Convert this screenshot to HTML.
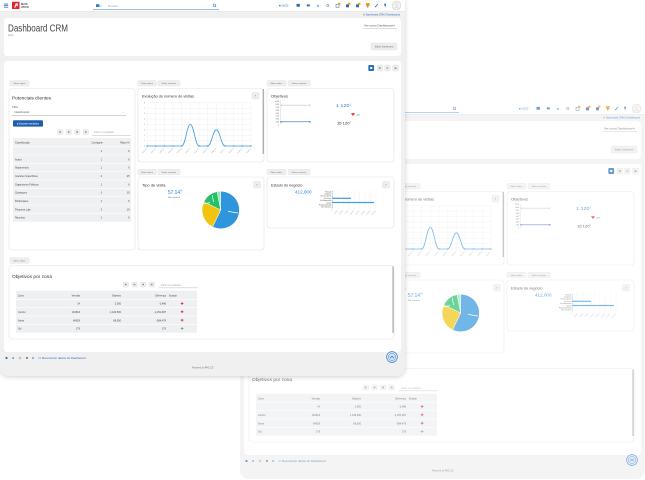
<!DOCTYPE html>
<html><head><meta charset="utf-8">
<style>
html,body{margin:0;padding:0}
body{width:645px;height:480px;background:#fff;position:relative;overflow:hidden}
.shot{position:absolute;width:405px;height:376px}
.shot svg{display:block}
#back{left:240px;top:103px;opacity:.68}
#front{left:0;top:0;filter:drop-shadow(0 1px 2.5px rgba(0,0,0,.18))}
</style></head><body>

<div class="shot" id="back">
<svg width="405" height="376" viewBox="0 0 405 376" font-family="'Liberation Sans',sans-serif">
<path d="M0 0H405V367a9 9 0 0 1-9 9H9a9 9 0 0 1-9-9Z" fill="#f0f0f0"/>
<rect width="405" height="11" fill="#fff"/><rect y="11" width="405" height="0.5" fill="#e2e2e2"/>
<g fill="#2f6db5"><rect x="4" y="3.6" width="4.2" height="0.8"/><rect x="4" y="5.2" width="4.2" height="0.8"/><rect x="4" y="6.8" width="4.2" height="0.8"/></g>
<rect x="12" y="1.8" width="7.5" height="7.2" rx="0.8" fill="#e3202b"/>
<path d="M14.2 7.6L15.6 3.4H17.8V6.2H16.6V4.6L15.4 7.6Z" fill="#fff"/>
<text x="21" y="4.9" font-size="2.6" font-weight="bold" fill="#444">MAIS</text>
<text x="21" y="8" font-size="2.6" font-weight="bold" fill="#444">ATIVO</text>
<rect x="93" y="9.3" width="126" height="0.7" fill="#6aa3e3"/>
<rect x="96" y="4.2" width="3.4" height="2.8" fill="#3a78c8"/>
<text x="100.2" y="7" font-size="2.4" fill="#3a78c8">▾</text>
<text x="108" y="6.9" font-size="2.5" fill="#9a9a9a">Procurar...</text>
<circle cx="214.3" cy="5.2" r="1.2" fill="none" stroke="#3a78c8" stroke-width="0.6"/><line x1="215.1" y1="6" x2="216.2" y2="7.1" stroke="#3a78c8" stroke-width="0.6"/>
<text x="279" y="6.6" font-size="2.8" fill="#2f6db5">■ 20/22</text>
<rect x="296.5" y="3.9" width="3.4" height="2.8" rx="0.4" fill="#2f6db5"/>
<rect x="306.8" y="4.4" width="3" height="2" fill="#2f6db5"/>
<text x="316.4" y="7" font-size="3.4" fill="#2f6db5">★</text>
<circle cx="327.8" cy="5.5" r="1.2" fill="none" stroke="#2f6db5" stroke-width="0.5"/>
<rect x="336" y="4.3" width="3" height="3" fill="none" stroke="#2f6db5" stroke-width="0.5"/><rect x="338" y="2.8" width="2.4" height="2" fill="#f39c12"/>
<rect x="346" y="4.3" width="3" height="3" fill="#2f6db5"/><rect x="348" y="2.8" width="2.4" height="2" fill="#f39c12"/>
<rect x="356" y="4.3" width="3" height="3" fill="#2f6db5"/><rect x="358" y="2.8" width="2.4" height="2" fill="#f39c12"/>
<rect x="366" y="3" width="3.6" height="3" fill="#f39c12"/><rect x="367.3" y="6" width="1" height="1.5" fill="#2f6db5"/>
<line x1="375" y1="7.2" x2="377.8" y2="4.2" stroke="#2f6db5" stroke-width="0.8"/>
<rect x="384.3" y="3.6" width="1.6" height="2.2" fill="#2f6db5"/><rect x="384.9" y="5.8" width="0.4" height="1.6" fill="#2f6db5"/>
<circle cx="396.5" cy="5.5" r="4.4" fill="#f5f5f5" stroke="#d0d0d0" stroke-width="0.6"/>
<circle cx="396.5" cy="4.6" r="1.6" fill="none" stroke="#d0d0d0" stroke-width="0.5"/>
<path d="M393.5 8.6Q396.5 5.8 399.5 8.6" fill="none" stroke="#d0d0d0" stroke-width="0.5"/>
<text x="400" y="15.6" text-anchor="end" font-size="2.5" fill="#2f6db5"><tspan fill="#777">⚙ </tspan>Dashboard CRM | Dashboards</text>
<rect x="4" y="18" width="397" height="38" rx="3" fill="#fff"/>
<text x="8" y="31.5" font-size="10" fill="#444" textLength="60" lengthAdjust="spacingAndGlyphs">Dashboard CRM</text>
<text x="8" y="36" font-size="2.8" fill="#777">Crm</text>
<text x="364" y="26.5" font-size="2.7" fill="#555" textLength="31" lengthAdjust="spacingAndGlyphs">Ver outro Dashboard ▾</text>
<rect x="363" y="28" width="34" height="0.5" fill="#bbb"/>
<rect x="371" y="43" width="26" height="7" rx="1.5" fill="#eee" stroke="#ddd" stroke-width="0.4"/>
<text x="384" y="47.4" text-anchor="middle" font-size="2.4" fill="#777">Editar Dashboard</text>
<rect x="4" y="61" width="397" height="291" rx="3" fill="#fff"/>
<rect x="368.3" y="65" width="5.8" height="6" rx="1" fill="#2f6db5"/><rect x="370.2" y="67" width="2" height="2" fill="#fff"/>
<g fill="#eee" stroke="#ddd" stroke-width="0.4"><rect x="377" y="65" width="5.5" height="6" rx="1"/><rect x="384.6" y="65" width="5.5" height="6" rx="1"/><rect x="392.7" y="65" width="5.5" height="6" rx="1"/></g>
<g fill="#888"><rect x="378.9" y="67.2" width="1.7" height="1.6"/><rect x="386.5" y="67.5" width="1.7" height="1"/><path d="M394.5 69.3L396.4 67.4"/><rect x="394.6" y="67.5" width="1.8" height="1.5"/></g>
<g fill="#efefef" stroke="#e0e0e0" stroke-width="0.4">
<rect x="10" y="80.5" width="19" height="5.5" rx="1"/>
<rect x="138" y="80.5" width="18.5" height="5.5" rx="1"/><rect x="158" y="80.5" width="22" height="5.5" rx="1"/>
<rect x="267" y="80.5" width="19" height="5.5" rx="1"/><rect x="288" y="80.5" width="22" height="5.5" rx="1"/>
<rect x="138" y="169.3" width="18.5" height="5.5" rx="1"/><rect x="158" y="169.3" width="22" height="5.5" rx="1"/>
<rect x="267" y="169.3" width="19" height="5.5" rx="1"/><rect x="288" y="169.3" width="22" height="5.5" rx="1"/>
<rect x="10" y="257.8" width="19" height="5.5" rx="1"/>
</g>
<g font-size="2.1" fill="#777" text-anchor="middle">
<text x="19.5" y="84">Editar objeto</text>
<text x="147.2" y="84">Editar objeto</text><text x="169" y="84">Editar snapshot</text>
<text x="276.5" y="84">Editar objeto</text><text x="299" y="84">Editar snapshot</text>
<text x="147.2" y="172.8">Editar objeto</text><text x="169" y="172.8">Editar snapshot</text>
<text x="276.5" y="172.8">Editar objeto</text><text x="299" y="172.8">Editar snapshot</text>
<text x="19.5" y="261.3">Editar objeto</text>
</g>
<g fill="#fff" stroke="#e3e3e3" stroke-width="0.6">
<rect x="9" y="88.5" width="126" height="161.5" rx="3"/>
<rect x="138" y="88.5" width="126" height="73.5" rx="3"/>
<rect x="138" y="177" width="126" height="73" rx="3"/>
<rect x="267" y="88.5" width="127" height="73.5" rx="3"/>
<rect x="267" y="177" width="127" height="51" rx="3"/>
<rect x="9" y="265.5" width="385" height="73.5" rx="3"/>
</g>
<text x="12" y="99.5" font-size="4.6" fill="#333" textLength="39" lengthAdjust="spacingAndGlyphs">Potenciais clientes</text>
<text x="12.3" y="108" font-size="2.6" fill="#555">Filtro</text>
<text x="14" y="113.2" font-size="2.6" fill="#666">Classificação</text>
<text x="122.5" y="113.2" font-size="2.6" fill="#777">⌄</text>
<rect x="12" y="115.2" width="114" height="0.5" fill="#aaa"/>
<rect x="13" y="120.3" width="30" height="6.3" rx="1" fill="#1f5eae"/>
<text x="28" y="124.5" text-anchor="middle" font-size="2.3" fill="#fff">■ Exportar resultados</text>
<g fill="#efefef" stroke="#ddd" stroke-width="0.4"><rect x="57.5" y="129.5" width="5.5" height="5" rx="1"/><rect x="66" y="129.5" width="5.5" height="5" rx="1"/><rect x="74.5" y="129.5" width="5.5" height="5" rx="1"/><rect x="83" y="129.5" width="5.5" height="5" rx="1"/></g>
<g fill="#888"><rect x="59.4" y="131.3" width="1.6" height="1.4"/><rect x="67.9" y="131.3" width="1.6" height="1.4"/><rect x="76.4" y="131.3" width="1.6" height="1.4"/><rect x="84.9" y="131.3" width="1.6" height="1.4"/></g>
<text x="94" y="133.2" font-size="2.3" fill="#aaa">Filtrar os resultados</text>
<rect x="92" y="135.5" width="39" height="0.5" fill="#bbb"/>
<rect x="13" y="138" width="118" height="83.7" fill="#eef0f2"/>
<g fill="#fff"><rect x="13" y="146.4" width="118" height="0.6"/><rect x="13" y="154.7" width="118" height="0.6"/><rect x="13" y="163" width="118" height="0.6"/><rect x="13" y="171.4" width="118" height="0.6"/><rect x="13" y="179.7" width="118" height="0.6"/><rect x="13" y="188" width="118" height="0.6"/><rect x="13" y="196.4" width="118" height="0.6"/><rect x="13" y="204.7" width="118" height="0.6"/><rect x="13" y="213" width="118" height="0.6"/></g>
<g font-size="2.5" fill="#444">
<text x="15" y="143.5">Classificação</text><text x="103" y="143.5" text-anchor="end">Contagem</text><text x="129.5" y="143.5" text-anchor="end">Rácio %</text>
<text x="15" y="160.3">Activo</text><text x="15" y="168.7">Alojamentos</text><text x="15" y="177">Grandes Superfícies</text><text x="15" y="185.3">Organismos Públicos</text><text x="15" y="193.7">Quiosques</text><text x="15" y="202">Particulares</text><text x="15" y="210.3">Pequena Loja</text><text x="15" y="218.7">Ranchos</text>
</g>
<g font-size="2.5" fill="#444" text-anchor="end">
<text x="102" y="152">1</text><text x="102" y="160.3">1</text><text x="102" y="168.7">1</text><text x="102" y="177">4</text><text x="102" y="185.3">1</text><text x="102" y="193.7">3</text><text x="102" y="202">1</text><text x="102" y="210.3">3</text><text x="102" y="218.7">1</text>
<text x="129.5" y="152">6</text><text x="129.5" y="160.3">6</text><text x="129.5" y="168.7">6</text><text x="129.5" y="177">25</text><text x="129.5" y="185.3">6</text><text x="129.5" y="193.7">19</text><text x="129.5" y="202">6</text><text x="129.5" y="210.3">19</text><text x="129.5" y="218.7">6</text>
</g>
<text x="142" y="97.6" font-size="3.8" fill="#333" textLength="52" lengthAdjust="spacingAndGlyphs">Evolução do número de visitas</text>
<rect x="252" y="92.5" width="7" height="6.5" rx="1" fill="#eee" stroke="#ddd" stroke-width="0.4"/><text x="255.5" y="97.2" text-anchor="middle" font-size="3.5" fill="#555">›</text>
<g stroke="#ececec" stroke-width="0.4">
<line x1="147" y1="146" x2="251" y2="146"/><line x1="147" y1="140.6" x2="251" y2="140.6"/><line x1="147" y1="135.2" x2="251" y2="135.2"/><line x1="147" y1="129.8" x2="251" y2="129.8"/><line x1="147" y1="124.4" x2="251" y2="124.4"/><line x1="147" y1="119" x2="251" y2="119"/><line x1="147" y1="113.6" x2="251" y2="113.6"/><line x1="147" y1="108.2" x2="251" y2="108.2"/><line x1="147" y1="102.8" x2="251" y2="102.8"/>
<line x1="147" y1="102.8" x2="147" y2="147"/><line x1="155.67" y1="102.8" x2="155.67" y2="147"/><line x1="164.33" y1="102.8" x2="164.33" y2="147"/><line x1="173" y1="102.8" x2="173" y2="147"/><line x1="181.67" y1="102.8" x2="181.67" y2="147"/><line x1="190.33" y1="102.8" x2="190.33" y2="147"/><line x1="199" y1="102.8" x2="199" y2="147"/><line x1="207.67" y1="102.8" x2="207.67" y2="147"/><line x1="216.33" y1="102.8" x2="216.33" y2="147"/><line x1="225" y1="102.8" x2="225" y2="147"/><line x1="233.67" y1="102.8" x2="233.67" y2="147"/><line x1="242.33" y1="102.8" x2="242.33" y2="147"/><line x1="251" y1="102.8" x2="251" y2="147"/>
</g>
<g font-size="1.8" fill="#888" text-anchor="end">
<text x="145" y="146.6">0</text><text x="145" y="141.2">1</text><text x="145" y="135.8">2</text><text x="145" y="130.4">3</text><text x="145" y="125">4</text><text x="145" y="119.6">5</text><text x="145" y="114.2">6</text><text x="145" y="108.8">7</text><text x="145" y="103.4">8</text>
</g>
<g font-size="1.7" fill="#999" text-anchor="end">
<text x="147" y="149" transform="rotate(-45 147 149)">2022-01</text><text x="155.67" y="149" transform="rotate(-45 155.67 149)">2022-02</text><text x="164.33" y="149" transform="rotate(-45 164.33 149)">2022-03</text><text x="173" y="149" transform="rotate(-45 173 149)">2022-04</text><text x="181.67" y="149" transform="rotate(-45 181.67 149)">2022-05</text><text x="190.33" y="149" transform="rotate(-45 190.33 149)">2022-06</text><text x="199" y="149" transform="rotate(-45 199 149)">2022-07</text><text x="207.67" y="149" transform="rotate(-45 207.67 149)">2022-08</text><text x="216.33" y="149" transform="rotate(-45 216.33 149)">2022-09</text><text x="225" y="149" transform="rotate(-45 225 149)">2022-10</text><text x="233.67" y="149" transform="rotate(-45 233.67 149)">2022-11</text><text x="242.33" y="149" transform="rotate(-45 242.33 149)">2022-12</text><text x="251" y="149" transform="rotate(-45 251 149)">2023-01</text>
</g>
<path d="M147 146H181.67C185.5 146 186.8 124.4 190.33 124.4C193.9 124.4 195.2 146 199 146H207.67C211.5 146 212.8 129.8 216.33 129.8C219.9 129.8 221.2 146 225 146H251" fill="none" stroke="#3d9be9" stroke-width="0.8"/>
<g fill="#2f7fd6"><circle cx="147" cy="146" r="0.65"/><circle cx="155.67" cy="146" r="0.65"/><circle cx="164.33" cy="146" r="0.65"/><circle cx="173" cy="146" r="0.65"/><circle cx="181.67" cy="146" r="0.65"/><circle cx="199" cy="146" r="0.65"/><circle cx="207.67" cy="146" r="0.65"/><circle cx="225" cy="146" r="0.65"/><circle cx="233.67" cy="146" r="0.65"/><circle cx="242.33" cy="146" r="0.65"/><circle cx="251" cy="146" r="0.65"/></g>
<rect x="262.6" y="89" width="1.4" height="65" fill="#b0b0b0"/>
<text x="142" y="186.5" font-size="3.8" fill="#333" textLength="23.5" lengthAdjust="spacingAndGlyphs">Tipo de visita</text>
<rect x="253.5" y="181.5" width="7" height="6.5" rx="1" fill="#eee" stroke="#ddd" stroke-width="0.4"/><text x="257" y="186.2" text-anchor="middle" font-size="3.5" fill="#555">›</text>
<text x="168" y="193.8" font-size="5" fill="#2f80d0" textLength="12" lengthAdjust="spacingAndGlyphs">57.14</text><text x="180.3" y="191.5" font-size="2.4" fill="#2f80d0">%</text>
<text x="168" y="198" font-size="1.9" fill="#666">Não comercial</text>
<g stroke="#fff" stroke-width="0.5">
<path d="M220.7 210L220.7 191.3A18.7 18.7 0 1 1 212.59 226.85Z" fill="#2f95dd"/>
<path d="M220.7 210L212.59 226.85A18.7 18.7 0 0 1 203.89 201.8Z" fill="#f1c40f"/>
<path d="M220.7 210L203.89 201.8A18.7 18.7 0 0 1 217.13 191.64Z" fill="#27c06a"/>
<path d="M220.7 210L217.13 191.64A18.7 18.7 0 0 1 220.7 191.3Z" fill="#9be3b5"/>
</g>
<g stroke="#fff" stroke-width="0.7"><line x1="228" y1="211.4" x2="238" y2="213"/><line x1="202.5" y1="204.2" x2="210" y2="202.6"/><line x1="212.3" y1="195" x2="213.5" y2="202"/></g>
<text x="271" y="97.6" font-size="3.8" fill="#333" textLength="17" lengthAdjust="spacingAndGlyphs">Objetivos</text>
<g font-size="1.7" fill="#555" text-anchor="end">
<text x="279" y="102.2">12.50</text><text x="279" y="105.1">11.00</text><text x="279" y="108">9.50</text><text x="279" y="110.9">8.00</text><text x="279" y="113.8">6.50</text><text x="279" y="116.7">5.00</text><text x="279" y="119.6">3.50</text><text x="279" y="122.5">2.00</text><text x="279" y="125.4">0</text>
</g>
<rect x="280" y="100.5" width="0.4" height="24.5" fill="#ccc"/>
<rect x="281" y="104.8" width="29" height="0.9" fill="#d5d5d5"/><rect x="281" y="104.2" width="0.4" height="2" fill="#aaa"/><rect x="309.6" y="104.2" width="0.4" height="2" fill="#aaa"/>
<line x1="281" y1="121.8" x2="310" y2="121.8" stroke="#2f6db5" stroke-width="0.6"/>
<circle cx="281.2" cy="121.8" r="0.75" fill="#2f6db5"/><circle cx="309.8" cy="121.8" r="0.75" fill="#2f6db5"/>
<text x="336" y="107" font-size="4.6" fill="#2f80d0" textLength="13.5" lengthAdjust="spacingAndGlyphs">1 120</text><text x="349.8" y="104.8" font-size="2.2" fill="#2f80d0">€</text>
<path d="M351 113.3H355L353 116Z" fill="#e22"/><text x="356" y="115.5" font-size="1.8" fill="#666">-18%</text>
<text x="337" y="124.3" font-size="3.6" fill="#222" textLength="12.5" lengthAdjust="spacingAndGlyphs">15 120</text><text x="349.8" y="122.3" font-size="2" fill="#222">€</text>
<text x="271" y="186.5" font-size="3.8" fill="#333" textLength="31.5" lengthAdjust="spacingAndGlyphs">Estado do negócio</text>
<rect x="382.5" y="181.5" width="7" height="6.5" rx="1" fill="#eee" stroke="#ddd" stroke-width="0.4"/><text x="386" y="186.2" text-anchor="middle" font-size="3.5" fill="#555">›</text>
<text x="295" y="193.7" font-size="4.6" fill="#2f80d0" textLength="16.5" lengthAdjust="spacingAndGlyphs">412,000</text>
<g stroke="#ececec" stroke-width="0.35"><line x1="337.5" y1="190" x2="337.5" y2="209.5"/><line x1="343" y1="190" x2="343" y2="209.5"/><line x1="348.5" y1="190" x2="348.5" y2="209.5"/><line x1="354" y1="190" x2="354" y2="209.5"/><line x1="359.5" y1="190" x2="359.5" y2="209.5"/><line x1="365" y1="190" x2="365" y2="209.5"/><line x1="370.5" y1="190" x2="370.5" y2="209.5"/><line x1="376" y1="190" x2="376" y2="209.5"/></g>
<rect x="331.8" y="190" width="0.4" height="19.5" fill="#bbb"/>
<g font-size="1.5" fill="#444" text-anchor="end">
<text x="331" y="192.3">Fechado</text><text x="331" y="194.5">Suspenso</text><text x="331" y="196.7">Conversa Inicial</text><text x="331" y="198.9">Em Curso</text><text x="331" y="201.1">Em Negociação</text><text x="331" y="203.3">Ganho</text><text x="331" y="205.5">Proposta Enviada</text><text x="331" y="207.7">Sem Interesse</text>
</g>
<g fill="#3d9be9"><rect x="332" y="191.3" width="0.6" height="1"/><rect x="332" y="193.5" width="0.6" height="1"/><rect x="332" y="195.7" width="0.6" height="1"/><rect x="332" y="197.7" width="19" height="1.2"/><rect x="332" y="200.1" width="0.6" height="1"/><rect x="332" y="201.9" width="42" height="1.2"/><rect x="332" y="204.5" width="0.6" height="1"/><rect x="332" y="206.7" width="0.6" height="1"/></g>
<g font-size="1.5" fill="#999" text-anchor="end">
<text x="332" y="211" transform="rotate(-45 332 211)">0</text><text x="337.5" y="211" transform="rotate(-45 337.5 211)">25,000</text><text x="343" y="211" transform="rotate(-45 343 211)">50,000</text><text x="348.5" y="211" transform="rotate(-45 348.5 211)">75,000</text><text x="354" y="211" transform="rotate(-45 354 211)">100,000</text><text x="359.5" y="211" transform="rotate(-45 359.5 211)">125,000</text><text x="365" y="211" transform="rotate(-45 365 211)">150,000</text><text x="370.5" y="211" transform="rotate(-45 370.5 211)">175,000</text><text x="376" y="211" transform="rotate(-45 376 211)">200,000</text>
</g>
<text x="12" y="277.8" font-size="4.3" fill="#333" textLength="40" lengthAdjust="spacingAndGlyphs">Objetivos por zona</text>
<g fill="#efefef" stroke="#ddd" stroke-width="0.4"><rect x="123" y="282" width="5.5" height="5" rx="1"/><rect x="131.8" y="282" width="5.5" height="5" rx="1"/><rect x="140.5" y="282" width="5.5" height="5" rx="1"/><rect x="149" y="282" width="5.5" height="5" rx="1"/></g>
<g fill="#888"><rect x="124.9" y="283.8" width="1.6" height="1.4"/><rect x="133.7" y="283.8" width="1.6" height="1.4"/><rect x="142.4" y="283.8" width="1.6" height="1.4"/><rect x="150.9" y="283.8" width="1.6" height="1.4"/></g>
<text x="161" y="285.8" font-size="2.3" fill="#aaa">Filtrar os resultados</text>
<rect x="159" y="287.6" width="39" height="0.5" fill="#bbb"/>
<rect x="16" y="290.7" width="181" height="42" fill="#eef0f2"/>
<g fill="#fff"><rect x="16" y="299" width="181" height="0.6"/><rect x="16" y="307.3" width="181" height="0.6"/><rect x="16" y="315.7" width="181" height="0.6"/><rect x="16" y="324" width="181" height="0.6"/></g>
<g font-size="2.5" fill="#444">
<text x="18" y="296.3">Zona</text><text x="169" y="296.3">Estado</text>
<text x="18" y="312.9">Centro</text><text x="18" y="321.3">Norte</text><text x="18" y="329.6">Sul</text>
</g>
<g font-size="2.5" fill="#444" text-anchor="end">
<text x="80" y="296.3">Vendas</text><text x="121" y="296.3">Objetivo</text><text x="166" y="296.3">Diferença</text>
<text x="80" y="304.6">14</text><text x="121" y="304.6">3,500</text><text x="166" y="304.6">-3,486</text>
<text x="80" y="312.9">191813</text><text x="121" y="312.9">1,443,500</text><text x="166" y="312.9">-1,251,687</text>
<text x="80" y="321.3">84929</text><text x="121" y="321.3">88,500</text><text x="166" y="321.3">-584,479</text>
<text x="80" y="329.6">179</text><text x="166" y="329.6">179</text>
</g>
<g fill="#e0245e"><rect x="181.6" y="302.2" width="0.9" height="2.6"/><rect x="180.8" y="303" width="2.6" height="0.9"/><rect x="181.6" y="310.5" width="0.9" height="2.6"/><rect x="180.8" y="311.3" width="2.6" height="0.9"/><rect x="181.6" y="318.9" width="0.9" height="2.6"/><rect x="180.8" y="319.7" width="2.6" height="0.9"/></g>
<g fill="#6ab04c"><rect x="181.6" y="327.2" width="0.9" height="2.6"/><rect x="180.8" y="328" width="2.6" height="0.9"/></g>
<rect x="392.4" y="266.5" width="1.3" height="66.5" fill="#b0b0b0"/>
<circle cx="6.5" cy="358" r="1.1" fill="#2f6db5"/><rect x="12.6" y="357" width="1" height="2" fill="#2f6db5"/><circle cx="20" cy="358" r="1" fill="none" stroke="#999" stroke-width="0.5"/><rect x="26.2" y="357" width="1.6" height="1.8" fill="#2f6db5"/><circle cx="33" cy="358" r="0.8" fill="#2f6db5"/>
<text x="38.5" y="359" font-size="2.4" fill="#2f6db5" textLength="47" lengthAdjust="spacingAndGlyphs">⟳ Reconstruir dados do Dashboard</text>
<circle cx="392" cy="357" r="5.4" fill="#dde9f7" stroke="#3a7fd0" stroke-width="0.7"/>
<circle cx="392" cy="357" r="3.6" fill="#cfe1f5" stroke="#3a7fd0" stroke-width="0.5"/>
<path d="M390.2 358L392 356.2L393.8 358" fill="none" stroke="#2f6db5" stroke-width="0.7"/>
<text x="192" y="368.3" font-size="2.3" fill="#777">Powered by <tspan fill="#2f6db5">PHC CS</tspan></text>
</svg>
</div>

<div class="shot" id="front">
<svg width="405" height="376" viewBox="0 0 405 376" font-family="'Liberation Sans',sans-serif">
<path d="M0 0H405V367a9 9 0 0 1-9 9H9a9 9 0 0 1-9-9Z" fill="#f0f0f0"/>
<rect width="405" height="11" fill="#fff"/><rect y="11" width="405" height="0.5" fill="#e2e2e2"/>
<g fill="#2f6db5"><rect x="4" y="3.6" width="4.2" height="0.8"/><rect x="4" y="5.2" width="4.2" height="0.8"/><rect x="4" y="6.8" width="4.2" height="0.8"/></g>
<rect x="12" y="1.8" width="7.5" height="7.2" rx="0.8" fill="#e3202b"/>
<path d="M14.2 7.6L15.6 3.4H17.8V6.2H16.6V4.6L15.4 7.6Z" fill="#fff"/>
<text x="21" y="4.9" font-size="2.6" font-weight="bold" fill="#444">MAIS</text>
<text x="21" y="8" font-size="2.6" font-weight="bold" fill="#444">ATIVO</text>
<rect x="93" y="9.3" width="126" height="0.7" fill="#6aa3e3"/>
<rect x="96" y="4.2" width="3.4" height="2.8" fill="#3a78c8"/>
<text x="100.2" y="7" font-size="2.4" fill="#3a78c8">▾</text>
<text x="108" y="6.9" font-size="2.5" fill="#9a9a9a">Procurar...</text>
<circle cx="214.3" cy="5.2" r="1.2" fill="none" stroke="#3a78c8" stroke-width="0.6"/><line x1="215.1" y1="6" x2="216.2" y2="7.1" stroke="#3a78c8" stroke-width="0.6"/>
<text x="279" y="6.6" font-size="2.8" fill="#2f6db5">■ 20/22</text>
<rect x="296.5" y="3.9" width="3.4" height="2.8" rx="0.4" fill="#2f6db5"/>
<rect x="306.8" y="4.4" width="3" height="2" fill="#2f6db5"/>
<text x="316.4" y="7" font-size="3.4" fill="#2f6db5">★</text>
<circle cx="327.8" cy="5.5" r="1.2" fill="none" stroke="#2f6db5" stroke-width="0.5"/>
<rect x="336" y="4.3" width="3" height="3" fill="none" stroke="#2f6db5" stroke-width="0.5"/><rect x="338" y="2.8" width="2.4" height="2" fill="#f39c12"/>
<rect x="346" y="4.3" width="3" height="3" fill="#2f6db5"/><rect x="348" y="2.8" width="2.4" height="2" fill="#f39c12"/>
<rect x="356" y="4.3" width="3" height="3" fill="#2f6db5"/><rect x="358" y="2.8" width="2.4" height="2" fill="#f39c12"/>
<rect x="366" y="3" width="3.6" height="3" fill="#f39c12"/><rect x="367.3" y="6" width="1" height="1.5" fill="#2f6db5"/>
<line x1="375" y1="7.2" x2="377.8" y2="4.2" stroke="#2f6db5" stroke-width="0.8"/>
<rect x="384.3" y="3.6" width="1.6" height="2.2" fill="#2f6db5"/><rect x="384.9" y="5.8" width="0.4" height="1.6" fill="#2f6db5"/>
<circle cx="396.5" cy="5.5" r="4.4" fill="#f5f5f5" stroke="#d0d0d0" stroke-width="0.6"/>
<circle cx="396.5" cy="4.6" r="1.6" fill="none" stroke="#d0d0d0" stroke-width="0.5"/>
<path d="M393.5 8.6Q396.5 5.8 399.5 8.6" fill="none" stroke="#d0d0d0" stroke-width="0.5"/>
<text x="400" y="15.6" text-anchor="end" font-size="2.5" fill="#2f6db5"><tspan fill="#777">⚙ </tspan>Dashboard CRM | Dashboards</text>
<rect x="4" y="18" width="397" height="38" rx="3" fill="#fff"/>
<text x="8" y="31.5" font-size="10" fill="#444" textLength="60" lengthAdjust="spacingAndGlyphs">Dashboard CRM</text>
<text x="8" y="36" font-size="2.8" fill="#777">Crm</text>
<text x="364" y="26.5" font-size="2.7" fill="#555" textLength="31" lengthAdjust="spacingAndGlyphs">Ver outro Dashboard ▾</text>
<rect x="363" y="28" width="34" height="0.5" fill="#bbb"/>
<rect x="371" y="43" width="26" height="7" rx="1.5" fill="#eee" stroke="#ddd" stroke-width="0.4"/>
<text x="384" y="47.4" text-anchor="middle" font-size="2.4" fill="#777">Editar Dashboard</text>
<rect x="4" y="61" width="397" height="291" rx="3" fill="#fff"/>
<rect x="368.3" y="65" width="5.8" height="6" rx="1" fill="#2f6db5"/><rect x="370.2" y="67" width="2" height="2" fill="#fff"/>
<g fill="#eee" stroke="#ddd" stroke-width="0.4"><rect x="377" y="65" width="5.5" height="6" rx="1"/><rect x="384.6" y="65" width="5.5" height="6" rx="1"/><rect x="392.7" y="65" width="5.5" height="6" rx="1"/></g>
<g fill="#888"><rect x="378.9" y="67.2" width="1.7" height="1.6"/><rect x="386.5" y="67.5" width="1.7" height="1"/><rect x="394.6" y="67.5" width="1.8" height="1.5"/></g>
<g fill="#efefef" stroke="#e0e0e0" stroke-width="0.4">
<rect x="10" y="80.5" width="19" height="5.5" rx="1"/>
<rect x="138" y="80.5" width="18.5" height="5.5" rx="1"/><rect x="158" y="80.5" width="22" height="5.5" rx="1"/>
<rect x="267" y="80.5" width="19" height="5.5" rx="1"/><rect x="288" y="80.5" width="22" height="5.5" rx="1"/>
<rect x="138" y="169.3" width="18.5" height="5.5" rx="1"/><rect x="158" y="169.3" width="22" height="5.5" rx="1"/>
<rect x="267" y="169.3" width="19" height="5.5" rx="1"/><rect x="288" y="169.3" width="22" height="5.5" rx="1"/>
<rect x="10" y="257.8" width="19" height="5.5" rx="1"/>
</g>
<g font-size="2.1" fill="#777" text-anchor="middle">
<text x="19.5" y="84">Editar objeto</text>
<text x="147.2" y="84">Editar objeto</text><text x="169" y="84">Editar snapshot</text>
<text x="276.5" y="84">Editar objeto</text><text x="299" y="84">Editar snapshot</text>
<text x="147.2" y="172.8">Editar objeto</text><text x="169" y="172.8">Editar snapshot</text>
<text x="276.5" y="172.8">Editar objeto</text><text x="299" y="172.8">Editar snapshot</text>
<text x="19.5" y="261.3">Editar objeto</text>
</g>
<g fill="#fff" stroke="#e3e3e3" stroke-width="0.6">
<rect x="9" y="88.5" width="126" height="161.5" rx="3"/>
<rect x="138" y="88.5" width="126" height="73.5" rx="3"/>
<rect x="138" y="177" width="126" height="73" rx="3"/>
<rect x="267" y="88.5" width="127" height="73.5" rx="3"/>
<rect x="267" y="177" width="127" height="51" rx="3"/>
<rect x="9" y="265.5" width="385" height="73.5" rx="3"/>
</g>
<text x="12" y="99.5" font-size="4.6" fill="#333" textLength="39" lengthAdjust="spacingAndGlyphs">Potenciais clientes</text>
<text x="12.3" y="108" font-size="2.6" fill="#555">Filtro</text>
<text x="14" y="113.2" font-size="2.6" fill="#666">Classificação</text>
<text x="122.5" y="113.2" font-size="2.6" fill="#777">⌄</text>
<rect x="12" y="115.2" width="114" height="0.5" fill="#aaa"/>
<rect x="13" y="120.3" width="30" height="6.3" rx="1" fill="#1f5eae"/>
<text x="28" y="124.5" text-anchor="middle" font-size="2.3" fill="#fff">■ Exportar resultados</text>
<g fill="#efefef" stroke="#ddd" stroke-width="0.4"><rect x="57.5" y="129.5" width="5.5" height="5" rx="1"/><rect x="66" y="129.5" width="5.5" height="5" rx="1"/><rect x="74.5" y="129.5" width="5.5" height="5" rx="1"/><rect x="83" y="129.5" width="5.5" height="5" rx="1"/></g>
<g fill="#888"><rect x="59.4" y="131.3" width="1.6" height="1.4"/><rect x="67.9" y="131.3" width="1.6" height="1.4"/><rect x="76.4" y="131.3" width="1.6" height="1.4"/><rect x="84.9" y="131.3" width="1.6" height="1.4"/></g>
<text x="94" y="133.2" font-size="2.3" fill="#aaa">Filtrar os resultados</text>
<rect x="92" y="135.5" width="39" height="0.5" fill="#bbb"/>
<rect x="13" y="138" width="118" height="83.7" fill="#eef0f2"/>
<g fill="#fff"><rect x="13" y="146.4" width="118" height="0.6"/><rect x="13" y="154.7" width="118" height="0.6"/><rect x="13" y="163" width="118" height="0.6"/><rect x="13" y="171.4" width="118" height="0.6"/><rect x="13" y="179.7" width="118" height="0.6"/><rect x="13" y="188" width="118" height="0.6"/><rect x="13" y="196.4" width="118" height="0.6"/><rect x="13" y="204.7" width="118" height="0.6"/><rect x="13" y="213" width="118" height="0.6"/></g>
<g font-size="2.5" fill="#444">
<text x="15" y="143.5">Classificação</text><text x="103" y="143.5" text-anchor="end">Contagem</text><text x="129.5" y="143.5" text-anchor="end">Rácio %</text>
<text x="15" y="160.3">Activo</text><text x="15" y="168.7">Alojamentos</text><text x="15" y="177">Grandes Superfícies</text><text x="15" y="185.3">Organismos Públicos</text><text x="15" y="193.7">Quiosques</text><text x="15" y="202">Particulares</text><text x="15" y="210.3">Pequena Loja</text><text x="15" y="218.7">Ranchos</text>
</g>
<g font-size="2.5" fill="#444" text-anchor="end">
<text x="102" y="152">1</text><text x="102" y="160.3">1</text><text x="102" y="168.7">1</text><text x="102" y="177">4</text><text x="102" y="185.3">1</text><text x="102" y="193.7">3</text><text x="102" y="202">1</text><text x="102" y="210.3">3</text><text x="102" y="218.7">1</text>
<text x="129.5" y="152">6</text><text x="129.5" y="160.3">6</text><text x="129.5" y="168.7">6</text><text x="129.5" y="177">25</text><text x="129.5" y="185.3">6</text><text x="129.5" y="193.7">19</text><text x="129.5" y="202">6</text><text x="129.5" y="210.3">19</text><text x="129.5" y="218.7">6</text>
</g>
<text x="142" y="97.6" font-size="3.8" fill="#333" textLength="52" lengthAdjust="spacingAndGlyphs">Evolução do número de visitas</text>
<rect x="252" y="92.5" width="7" height="6.5" rx="1" fill="#eee" stroke="#ddd" stroke-width="0.4"/><text x="255.5" y="97.2" text-anchor="middle" font-size="3.5" fill="#555">›</text>
<g stroke="#ececec" stroke-width="0.4">
<line x1="147" y1="146" x2="251" y2="146"/><line x1="147" y1="140.6" x2="251" y2="140.6"/><line x1="147" y1="135.2" x2="251" y2="135.2"/><line x1="147" y1="129.8" x2="251" y2="129.8"/><line x1="147" y1="124.4" x2="251" y2="124.4"/><line x1="147" y1="119" x2="251" y2="119"/><line x1="147" y1="113.6" x2="251" y2="113.6"/><line x1="147" y1="108.2" x2="251" y2="108.2"/><line x1="147" y1="102.8" x2="251" y2="102.8"/>
<line x1="147" y1="102.8" x2="147" y2="147"/><line x1="155.67" y1="102.8" x2="155.67" y2="147"/><line x1="164.33" y1="102.8" x2="164.33" y2="147"/><line x1="173" y1="102.8" x2="173" y2="147"/><line x1="181.67" y1="102.8" x2="181.67" y2="147"/><line x1="190.33" y1="102.8" x2="190.33" y2="147"/><line x1="199" y1="102.8" x2="199" y2="147"/><line x1="207.67" y1="102.8" x2="207.67" y2="147"/><line x1="216.33" y1="102.8" x2="216.33" y2="147"/><line x1="225" y1="102.8" x2="225" y2="147"/><line x1="233.67" y1="102.8" x2="233.67" y2="147"/><line x1="242.33" y1="102.8" x2="242.33" y2="147"/><line x1="251" y1="102.8" x2="251" y2="147"/>
</g>
<g font-size="1.8" fill="#888" text-anchor="end">
<text x="145" y="146.6">0</text><text x="145" y="141.2">1</text><text x="145" y="135.8">2</text><text x="145" y="130.4">3</text><text x="145" y="125">4</text><text x="145" y="119.6">5</text><text x="145" y="114.2">6</text><text x="145" y="108.8">7</text><text x="145" y="103.4">8</text>
</g>
<g font-size="1.7" fill="#999" text-anchor="end">
<text x="147" y="149" transform="rotate(-45 147 149)">2022-01</text><text x="155.67" y="149" transform="rotate(-45 155.67 149)">2022-02</text><text x="164.33" y="149" transform="rotate(-45 164.33 149)">2022-03</text><text x="173" y="149" transform="rotate(-45 173 149)">2022-04</text><text x="181.67" y="149" transform="rotate(-45 181.67 149)">2022-05</text><text x="190.33" y="149" transform="rotate(-45 190.33 149)">2022-06</text><text x="199" y="149" transform="rotate(-45 199 149)">2022-07</text><text x="207.67" y="149" transform="rotate(-45 207.67 149)">2022-08</text><text x="216.33" y="149" transform="rotate(-45 216.33 149)">2022-09</text><text x="225" y="149" transform="rotate(-45 225 149)">2022-10</text><text x="233.67" y="149" transform="rotate(-45 233.67 149)">2022-11</text><text x="242.33" y="149" transform="rotate(-45 242.33 149)">2022-12</text><text x="251" y="149" transform="rotate(-45 251 149)">2023-01</text>
</g>
<path d="M147 146H181.67C185.5 146 186.8 124.4 190.33 124.4C193.9 124.4 195.2 146 199 146H207.67C211.5 146 212.8 129.8 216.33 129.8C219.9 129.8 221.2 146 225 146H251" fill="none" stroke="#3d9be9" stroke-width="0.8"/>
<g fill="#2f7fd6"><circle cx="147" cy="146" r="0.65"/><circle cx="155.67" cy="146" r="0.65"/><circle cx="164.33" cy="146" r="0.65"/><circle cx="173" cy="146" r="0.65"/><circle cx="181.67" cy="146" r="0.65"/><circle cx="199" cy="146" r="0.65"/><circle cx="207.67" cy="146" r="0.65"/><circle cx="225" cy="146" r="0.65"/><circle cx="233.67" cy="146" r="0.65"/><circle cx="242.33" cy="146" r="0.65"/><circle cx="251" cy="146" r="0.65"/></g>
<rect x="262.6" y="89" width="1.4" height="65" fill="#b0b0b0"/>
<text x="142" y="186.5" font-size="3.8" fill="#333" textLength="23.5" lengthAdjust="spacingAndGlyphs">Tipo de visita</text>
<rect x="253.5" y="181.5" width="7" height="6.5" rx="1" fill="#eee" stroke="#ddd" stroke-width="0.4"/><text x="257" y="186.2" text-anchor="middle" font-size="3.5" fill="#555">›</text>
<text x="168" y="193.8" font-size="5" fill="#2f80d0" textLength="12" lengthAdjust="spacingAndGlyphs">57.14</text><text x="180.3" y="191.5" font-size="2.4" fill="#2f80d0">%</text>
<text x="168" y="198" font-size="1.9" fill="#666">Não comercial</text>
<g stroke="#fff" stroke-width="0.5">
<path d="M220.7 210L220.7 191.3A18.7 18.7 0 1 1 212.59 226.85Z" fill="#2f95dd"/>
<path d="M220.7 210L212.59 226.85A18.7 18.7 0 0 1 203.89 201.8Z" fill="#f1c40f"/>
<path d="M220.7 210L203.89 201.8A18.7 18.7 0 0 1 217.13 191.64Z" fill="#27c06a"/>
<path d="M220.7 210L217.13 191.64A18.7 18.7 0 0 1 220.7 191.3Z" fill="#9be3b5"/>
</g>
<g stroke="#fff" stroke-width="0.7"><line x1="228" y1="211.4" x2="238" y2="213"/><line x1="202.5" y1="204.2" x2="210" y2="202.6"/><line x1="212.3" y1="195" x2="213.5" y2="202"/></g>
<text x="271" y="97.6" font-size="3.8" fill="#333" textLength="17" lengthAdjust="spacingAndGlyphs">Objetivos</text>
<g font-size="1.7" fill="#555" text-anchor="end">
<text x="279" y="102.2">12.50</text><text x="279" y="105.1">11.00</text><text x="279" y="108">9.50</text><text x="279" y="110.9">8.00</text><text x="279" y="113.8">6.50</text><text x="279" y="116.7">5.00</text><text x="279" y="119.6">3.50</text><text x="279" y="122.5">2.00</text><text x="279" y="125.4">0</text>
</g>
<rect x="280" y="100.5" width="0.4" height="24.5" fill="#ccc"/>
<rect x="281" y="104.8" width="29" height="0.9" fill="#d5d5d5"/><rect x="281" y="104.2" width="0.4" height="2" fill="#aaa"/><rect x="309.6" y="104.2" width="0.4" height="2" fill="#aaa"/>
<line x1="281" y1="121.8" x2="310" y2="121.8" stroke="#2f6db5" stroke-width="0.6"/>
<circle cx="281.2" cy="121.8" r="0.75" fill="#2f6db5"/><circle cx="309.8" cy="121.8" r="0.75" fill="#2f6db5"/>
<text x="336" y="107" font-size="4.6" fill="#2f80d0" textLength="13.5" lengthAdjust="spacingAndGlyphs">1 120</text><text x="349.8" y="104.8" font-size="2.2" fill="#2f80d0">€</text>
<path d="M351 113.3H355L353 116Z" fill="#e22"/><text x="356" y="115.5" font-size="1.8" fill="#666">-18%</text>
<text x="337" y="124.3" font-size="3.6" fill="#222" textLength="12.5" lengthAdjust="spacingAndGlyphs">15 120</text><text x="349.8" y="122.3" font-size="2" fill="#222">€</text>
<text x="271" y="186.5" font-size="3.8" fill="#333" textLength="31.5" lengthAdjust="spacingAndGlyphs">Estado do negócio</text>
<rect x="382.5" y="181.5" width="7" height="6.5" rx="1" fill="#eee" stroke="#ddd" stroke-width="0.4"/><text x="386" y="186.2" text-anchor="middle" font-size="3.5" fill="#555">›</text>
<text x="295" y="193.7" font-size="4.6" fill="#2f80d0" textLength="16.5" lengthAdjust="spacingAndGlyphs">412,000</text>
<g stroke="#ececec" stroke-width="0.35"><line x1="337.5" y1="190" x2="337.5" y2="209.5"/><line x1="343" y1="190" x2="343" y2="209.5"/><line x1="348.5" y1="190" x2="348.5" y2="209.5"/><line x1="354" y1="190" x2="354" y2="209.5"/><line x1="359.5" y1="190" x2="359.5" y2="209.5"/><line x1="365" y1="190" x2="365" y2="209.5"/><line x1="370.5" y1="190" x2="370.5" y2="209.5"/><line x1="376" y1="190" x2="376" y2="209.5"/></g>
<rect x="331.8" y="190" width="0.4" height="19.5" fill="#bbb"/>
<g font-size="1.5" fill="#444" text-anchor="end">
<text x="331" y="192.3">Fechado</text><text x="331" y="194.5">Suspenso</text><text x="331" y="196.7">Conversa Inicial</text><text x="331" y="198.9">Em Curso</text><text x="331" y="201.1">Em Negociação</text><text x="331" y="203.3">Ganho</text><text x="331" y="205.5">Proposta Enviada</text><text x="331" y="207.7">Sem Interesse</text>
</g>
<g fill="#3d9be9"><rect x="332" y="191.3" width="0.6" height="1"/><rect x="332" y="193.5" width="0.6" height="1"/><rect x="332" y="195.7" width="0.6" height="1"/><rect x="332" y="197.7" width="19" height="1.2"/><rect x="332" y="200.1" width="0.6" height="1"/><rect x="332" y="201.9" width="42" height="1.2"/><rect x="332" y="204.5" width="0.6" height="1"/><rect x="332" y="206.7" width="0.6" height="1"/></g>
<g font-size="1.5" fill="#999" text-anchor="end">
<text x="332" y="211" transform="rotate(-45 332 211)">0</text><text x="337.5" y="211" transform="rotate(-45 337.5 211)">25,000</text><text x="343" y="211" transform="rotate(-45 343 211)">50,000</text><text x="348.5" y="211" transform="rotate(-45 348.5 211)">75,000</text><text x="354" y="211" transform="rotate(-45 354 211)">100,000</text><text x="359.5" y="211" transform="rotate(-45 359.5 211)">125,000</text><text x="365" y="211" transform="rotate(-45 365 211)">150,000</text><text x="370.5" y="211" transform="rotate(-45 370.5 211)">175,000</text><text x="376" y="211" transform="rotate(-45 376 211)">200,000</text>
</g>
<text x="12" y="277.8" font-size="4.3" fill="#333" textLength="40" lengthAdjust="spacingAndGlyphs">Objetivos por zona</text>
<g fill="#efefef" stroke="#ddd" stroke-width="0.4"><rect x="123" y="282" width="5.5" height="5" rx="1"/><rect x="131.8" y="282" width="5.5" height="5" rx="1"/><rect x="140.5" y="282" width="5.5" height="5" rx="1"/><rect x="149" y="282" width="5.5" height="5" rx="1"/></g>
<g fill="#888"><rect x="124.9" y="283.8" width="1.6" height="1.4"/><rect x="133.7" y="283.8" width="1.6" height="1.4"/><rect x="142.4" y="283.8" width="1.6" height="1.4"/><rect x="150.9" y="283.8" width="1.6" height="1.4"/></g>
<text x="161" y="285.8" font-size="2.3" fill="#aaa">Filtrar os resultados</text>
<rect x="159" y="287.6" width="39" height="0.5" fill="#bbb"/>
<rect x="16" y="290.7" width="181" height="42" fill="#eef0f2"/>
<g fill="#fff"><rect x="16" y="299" width="181" height="0.6"/><rect x="16" y="307.3" width="181" height="0.6"/><rect x="16" y="315.7" width="181" height="0.6"/><rect x="16" y="324" width="181" height="0.6"/></g>
<g font-size="2.5" fill="#444">
<text x="18" y="296.3">Zona</text><text x="169" y="296.3">Estado</text>
<text x="18" y="312.9">Centro</text><text x="18" y="321.3">Norte</text><text x="18" y="329.6">Sul</text>
</g>
<g font-size="2.5" fill="#444" text-anchor="end">
<text x="80" y="296.3">Vendas</text><text x="121" y="296.3">Objetivo</text><text x="166" y="296.3">Diferença</text>
<text x="80" y="304.6">14</text><text x="121" y="304.6">3,500</text><text x="166" y="304.6">-3,486</text>
<text x="80" y="312.9">191813</text><text x="121" y="312.9">1,443,500</text><text x="166" y="312.9">-1,251,687</text>
<text x="80" y="321.3">84929</text><text x="121" y="321.3">88,500</text><text x="166" y="321.3">-584,479</text>
<text x="80" y="329.6">179</text><text x="166" y="329.6">179</text>
</g>
<g fill="#e0245e"><rect x="181.6" y="302.2" width="0.9" height="2.6"/><rect x="180.8" y="303" width="2.6" height="0.9"/><rect x="181.6" y="310.5" width="0.9" height="2.6"/><rect x="180.8" y="311.3" width="2.6" height="0.9"/><rect x="181.6" y="318.9" width="0.9" height="2.6"/><rect x="180.8" y="319.7" width="2.6" height="0.9"/></g>
<g fill="#6ab04c"><rect x="181.6" y="327.2" width="0.9" height="2.6"/><rect x="180.8" y="328" width="2.6" height="0.9"/></g>
<rect x="392.4" y="266.5" width="1.3" height="66.5" fill="#b0b0b0"/>
<circle cx="6.5" cy="358" r="1.1" fill="#2f6db5"/><rect x="12.6" y="357" width="1" height="2" fill="#2f6db5"/><circle cx="20" cy="358" r="1" fill="none" stroke="#999" stroke-width="0.5"/><rect x="26.2" y="357" width="1.6" height="1.8" fill="#2f6db5"/><circle cx="33" cy="358" r="0.8" fill="#2f6db5"/>
<text x="38.5" y="359" font-size="2.4" fill="#2f6db5" textLength="47" lengthAdjust="spacingAndGlyphs">⟳ Reconstruir dados do Dashboard</text>
<circle cx="392" cy="357" r="5.4" fill="#dde9f7" stroke="#3a7fd0" stroke-width="0.7"/>
<circle cx="392" cy="357" r="3.6" fill="#cfe1f5" stroke="#3a7fd0" stroke-width="0.5"/>
<path d="M390.2 358L392 356.2L393.8 358" fill="none" stroke="#2f6db5" stroke-width="0.7"/>
<text x="192" y="368.3" font-size="2.3" fill="#777">Powered by <tspan fill="#2f6db5">PHC CS</tspan></text>
</svg>
</div>

</body></html>
